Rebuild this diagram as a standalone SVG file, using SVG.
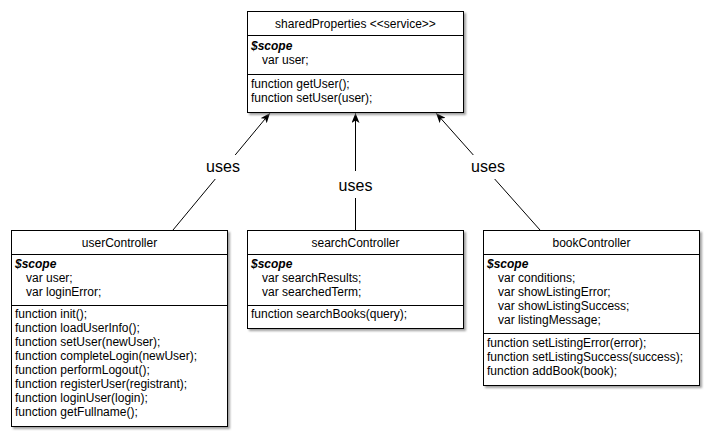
<svg xmlns="http://www.w3.org/2000/svg" width="710" height="439" viewBox="0 0 710 439">
<style>
text{font-family:"Liberation Sans",Arial,sans-serif;font-size:12px;fill:#000}
.t{text-anchor:middle}
.s{font-weight:bold;font-style:italic}
.box{fill:#fff;stroke:#000;stroke-width:1;filter:url(#sh)}
.div{stroke:#000;stroke-width:1}
.edge{stroke:#000;stroke-width:1;fill:none;marker-end:url(#arr)}
.lbl{font-size:16px;text-anchor:middle}
</style>
<defs>
<filter id="sh" x="-5%" y="-5%" width="115%" height="115%">
<feDropShadow dx="2" dy="2" stdDeviation="1.2" flood-color="#777" flood-opacity="0.7"/>
</filter>
<marker id="arr" markerUnits="userSpaceOnUse" markerWidth="10" markerHeight="8" refX="10" refY="4" orient="auto">
<path d="M0,0 L10,4 L0,8 L2.5,4 z" fill="#000"/>
</marker>
</defs>

<g id="connectors">
<line class="edge" x1="173" y1="230" x2="270" y2="113"/>
<line class="edge" x1="355.5" y1="230" x2="355.5" y2="113"/>
<line class="edge" x1="540" y1="230" x2="436" y2="113"/>
<rect x="203" y="155" width="40" height="24" fill="#fff"/>
<rect x="335" y="171" width="41" height="27" fill="#fff"/>
<rect x="468" y="155" width="40" height="24" fill="#fff"/>
<text class="lbl" x="223" y="172">uses</text>
<text class="lbl" x="355.5" y="191">uses</text>
<text class="lbl" x="488" y="172">uses</text>
</g>

<g id="sharedProperties">
<rect class="box" x="247.5" y="11.5" width="216" height="101"/>
<line class="div" x1="247.5" y1="35.5" x2="463.5" y2="35.5"/>
<line class="div" x1="247.5" y1="74.5" x2="463.5" y2="74.5"/>
<text class="t" x="355.5" y="28">sharedProperties &lt;&lt;service&gt;&gt;</text>
<text class="s" x="251" y="50">$scope</text>
<text x="262" y="64">var user;</text>
<text x="251" y="88">function getUser();</text>
<text x="251" y="102">function setUser(user);</text>
</g>

<g id="userController">
<rect class="box" x="11.5" y="230.5" width="216" height="196"/>
<line class="div" x1="11.5" y1="254.5" x2="227.5" y2="254.5"/>
<line class="div" x1="11.5" y1="305.5" x2="227.5" y2="305.5"/>
<text class="t" x="119.5" y="247">userController</text>
<text class="s" x="15" y="268">$scope</text>
<text x="26" y="282">var user;</text>
<text x="26" y="296">var loginError;</text>
<text x="15" y="318">function init();</text>
<text x="15" y="332">function loadUserInfo();</text>
<text x="15" y="346">function setUser(newUser);</text>
<text x="15" y="360">function completeLogin(newUser);</text>
<text x="15" y="374">function performLogout();</text>
<text x="15" y="388">function registerUser(registrant);</text>
<text x="15" y="402">function loginUser(login);</text>
<text x="15" y="416">function getFullname();</text>
</g>

<g id="searchController">
<rect class="box" x="247.5" y="230.5" width="216" height="98"/>
<line class="div" x1="247.5" y1="254.5" x2="463.5" y2="254.5"/>
<line class="div" x1="247.5" y1="305.5" x2="463.5" y2="305.5"/>
<text class="t" x="355.5" y="247">searchController</text>
<text class="s" x="251" y="268">$scope</text>
<text x="262" y="282">var searchResults;</text>
<text x="262" y="296">var searchedTerm;</text>
<text x="251" y="318">function searchBooks(query);</text>
</g>

<g id="bookController">
<rect class="box" x="483.5" y="230.5" width="216" height="155"/>
<line class="div" x1="483.5" y1="254.5" x2="699.5" y2="254.5"/>
<line class="div" x1="483.5" y1="333.5" x2="699.5" y2="333.5"/>
<text class="t" x="591.5" y="247">bookController</text>
<text class="s" x="487" y="268">$scope</text>
<text x="498" y="282">var conditions;</text>
<text x="498" y="296">var showListingError;</text>
<text x="498" y="310">var showListingSuccess;</text>
<text x="498" y="324">var listingMessage;</text>
<text x="487" y="347">function setListingError(error);</text>
<text x="487" y="361">function setListingSuccess(success);</text>
<text x="487" y="375">function addBook(book);</text>
</g>
</svg>
